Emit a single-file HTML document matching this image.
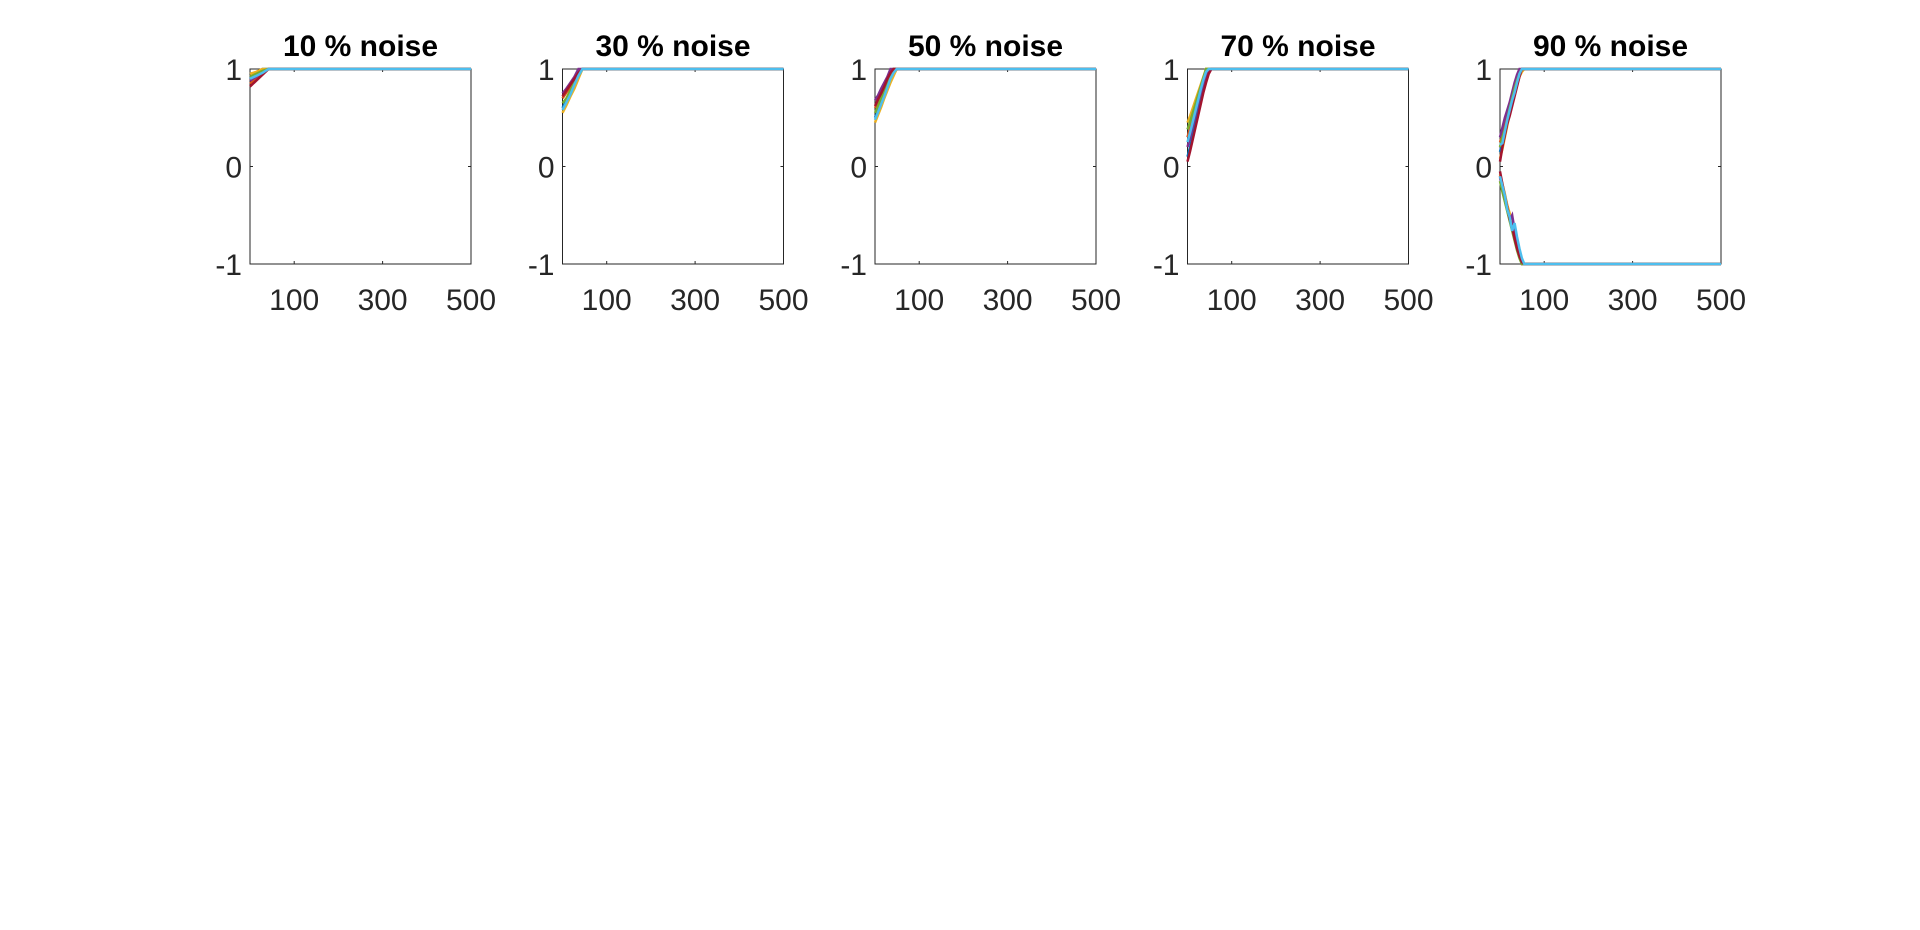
<!DOCTYPE html>
<html><head><meta charset="utf-8"><style>
body{margin:0;background:#fff;width:1920px;height:925px;overflow:hidden}
svg text{font-family:"Liberation Sans",sans-serif}
</style></head><body>
<svg id="fig" width="1920" height="925" xmlns="http://www.w3.org/2000/svg"></svg>
<script>
const titles=["10 % noise","30 % noise","50 % noise","70 % noise","90 % noise"];
const xTicks=[100,300,500];
const yTicks=[-1,0,1];
const xSteps=[14,9,7,6,5.5];
// each series: values at x=0,step,2*step,... then held constant to 500
const p1=[[0.9,0.95,1],[0.85,0.9,0.95,1],[0.95,0.97,1],[0.88,0.92,0.97,1],[0.92,0.95,0.98,1],[0.82,0.88,0.94,1],[0.9,0.93,0.96,1]];
const p2=[[0.6,0.68,0.76,0.84,0.92,1],[0.7,0.76,0.82,0.9,0.96,1],[0.55,0.63,0.72,0.8,0.9,1],[0.75,0.8,0.86,0.92,1],[0.65,0.7,0.78,0.86,0.93,1],[0.72,0.78,0.84,0.9,0.96,1],[0.58,0.66,0.74,0.84,0.93,1]];
const p3=[[0.5,0.57,0.65,0.72,0.8,0.87,0.94,1],[0.6,0.66,0.72,0.78,0.85,0.92,1],[0.45,0.53,0.61,0.7,0.78,0.86,0.93,1],[0.68,0.73,0.8,0.86,0.92,1],[0.55,0.62,0.7,0.77,0.85,0.92,1],[0.62,0.69,0.75,0.82,0.9,0.96,1],[0.48,0.56,0.64,0.72,0.81,0.9,0.96,1]];
const p4=[[0.1,0.2,0.32,0.44,0.56,0.68,0.8,0.9,0.97,1],[0.3,0.4,0.5,0.6,0.7,0.8,0.9,1],[0.45,0.52,0.6,0.68,0.76,0.84,0.92,1],[0.2,0.3,0.42,0.54,0.65,0.76,0.86,0.95,1],[0.38,0.46,0.55,0.64,0.73,0.82,0.91,1],[0.05,0.16,0.28,0.4,0.52,0.64,0.76,0.86,0.95,1],[0.25,0.35,0.46,0.57,0.68,0.79,0.89,0.97,1]];
const p5=[[0.15,0.25,0.35,0.45,0.55,0.65,0.75,0.85,0.93,0.98,1],[0.25,0.32,0.42,0.52,0.62,0.72,0.82,0.9,0.97,1],[0.08,0.18,0.3,0.42,0.54,0.64,0.74,0.84,0.92,0.97,1],[0.3,0.4,0.5,0.58,0.66,0.76,0.86,0.94,1],[0.2,0.3,0.38,0.48,0.6,0.7,0.8,0.88,0.95,1],[0.05,0.2,0.32,0.44,0.52,0.62,0.72,0.82,0.92,1],[0.22,0.24,0.36,0.48,0.58,0.68,0.76,0.86,0.95,1],
[-0.1,-0.22,-0.32,-0.42,-0.52,-0.6,-0.7,-0.8,-0.9,-0.97,-1],[-0.12,-0.2,-0.3,-0.4,-0.5,-0.6,-0.72,-0.82,-0.92,-1],[-0.08,-0.18,-0.28,-0.4,-0.48,-0.58,-0.68,-0.78,-0.88,-0.96,-1],[-0.1,-0.25,-0.35,-0.45,-0.55,-0.5,-0.65,-0.78,-0.9,-1],[-0.15,-0.26,-0.36,-0.46,-0.56,-0.66,-0.76,-0.86,-0.94,-1],[-0.05,-0.18,-0.3,-0.42,-0.54,-0.62,-0.74,-0.84,-0.92,-0.98,-1],[-0.1,-0.2,-0.3,-0.44,-0.52,-0.66,-0.58,-0.72,-0.84,-0.94,-1]];
const panels=[p1,p2,p3,p4,p5];
const colors=["#0072BD","#D95319","#EDB120","#7E2F8E","#77AC30","#A2142F","#4DBEEE"];
const svg=document.getElementById('fig');
const NS="http://www.w3.org/2000/svg";
function mk(t,a){const e=document.createElementNS(NS,t);for(const k in a)e.setAttribute(k,a[k]);svg.appendChild(e);return e;}
const W=221,T=69,B=264;
panels.forEach((ser,pi)=>{
  const L=250+pi*312.5;
  const sx=v=>L+v/500*W, sy=v=>B-(v+1)/2*(B-T);
  const ax=mk('rect',{x:L,y:T,width:W,height:B-T,fill:'#fff',stroke:'#262626','stroke-width':1});
  
  
  xTicks.forEach(t=>{
    mk('line',{x1:sx(t),x2:sx(t),y1:B,y2:B-3,stroke:'#262626'});
    mk('line',{x1:sx(t),x2:sx(t),y1:T,y2:T+3,stroke:'#262626'});
    const tx=mk('text',{x:sx(t),y:310,'text-anchor':'middle','font-size':30,fill:'#262626'});
    tx.textContent=t;
    
    
  });
  yTicks.forEach(t=>{
    mk('line',{x1:L,x2:L+3,y1:sy(t),y2:sy(t),stroke:'#262626'});
    mk('line',{x1:L+W,x2:L+W-3,y1:sy(t),y2:sy(t),stroke:'#262626'});
    const tx=mk('text',{x:L-8,y:sy(t)+11,'text-anchor':'end','font-size':30,fill:'#262626'});
    tx.textContent=t;
    
    
  });
  const st=xSteps[pi];
  ser.forEach((vals,si)=>{
    let d='';
    vals.forEach((v,i)=>{d+=(i?'L':'M')+sx(i*st)+','+sy(v);});
    d+='L'+sx(500)+','+sy(vals[vals.length-1]);
    const p=mk('path',{d:d,fill:'none',stroke:colors[si%colors.length],'stroke-width':2.5});
    
    
  });
  const tt=mk('text',{x:L+W/2,y:56,'text-anchor':'middle','font-size':30,'font-weight':'bold',fill:'#000'});
  tt.textContent=titles[pi];
  
  
});
</script>
</body></html>
